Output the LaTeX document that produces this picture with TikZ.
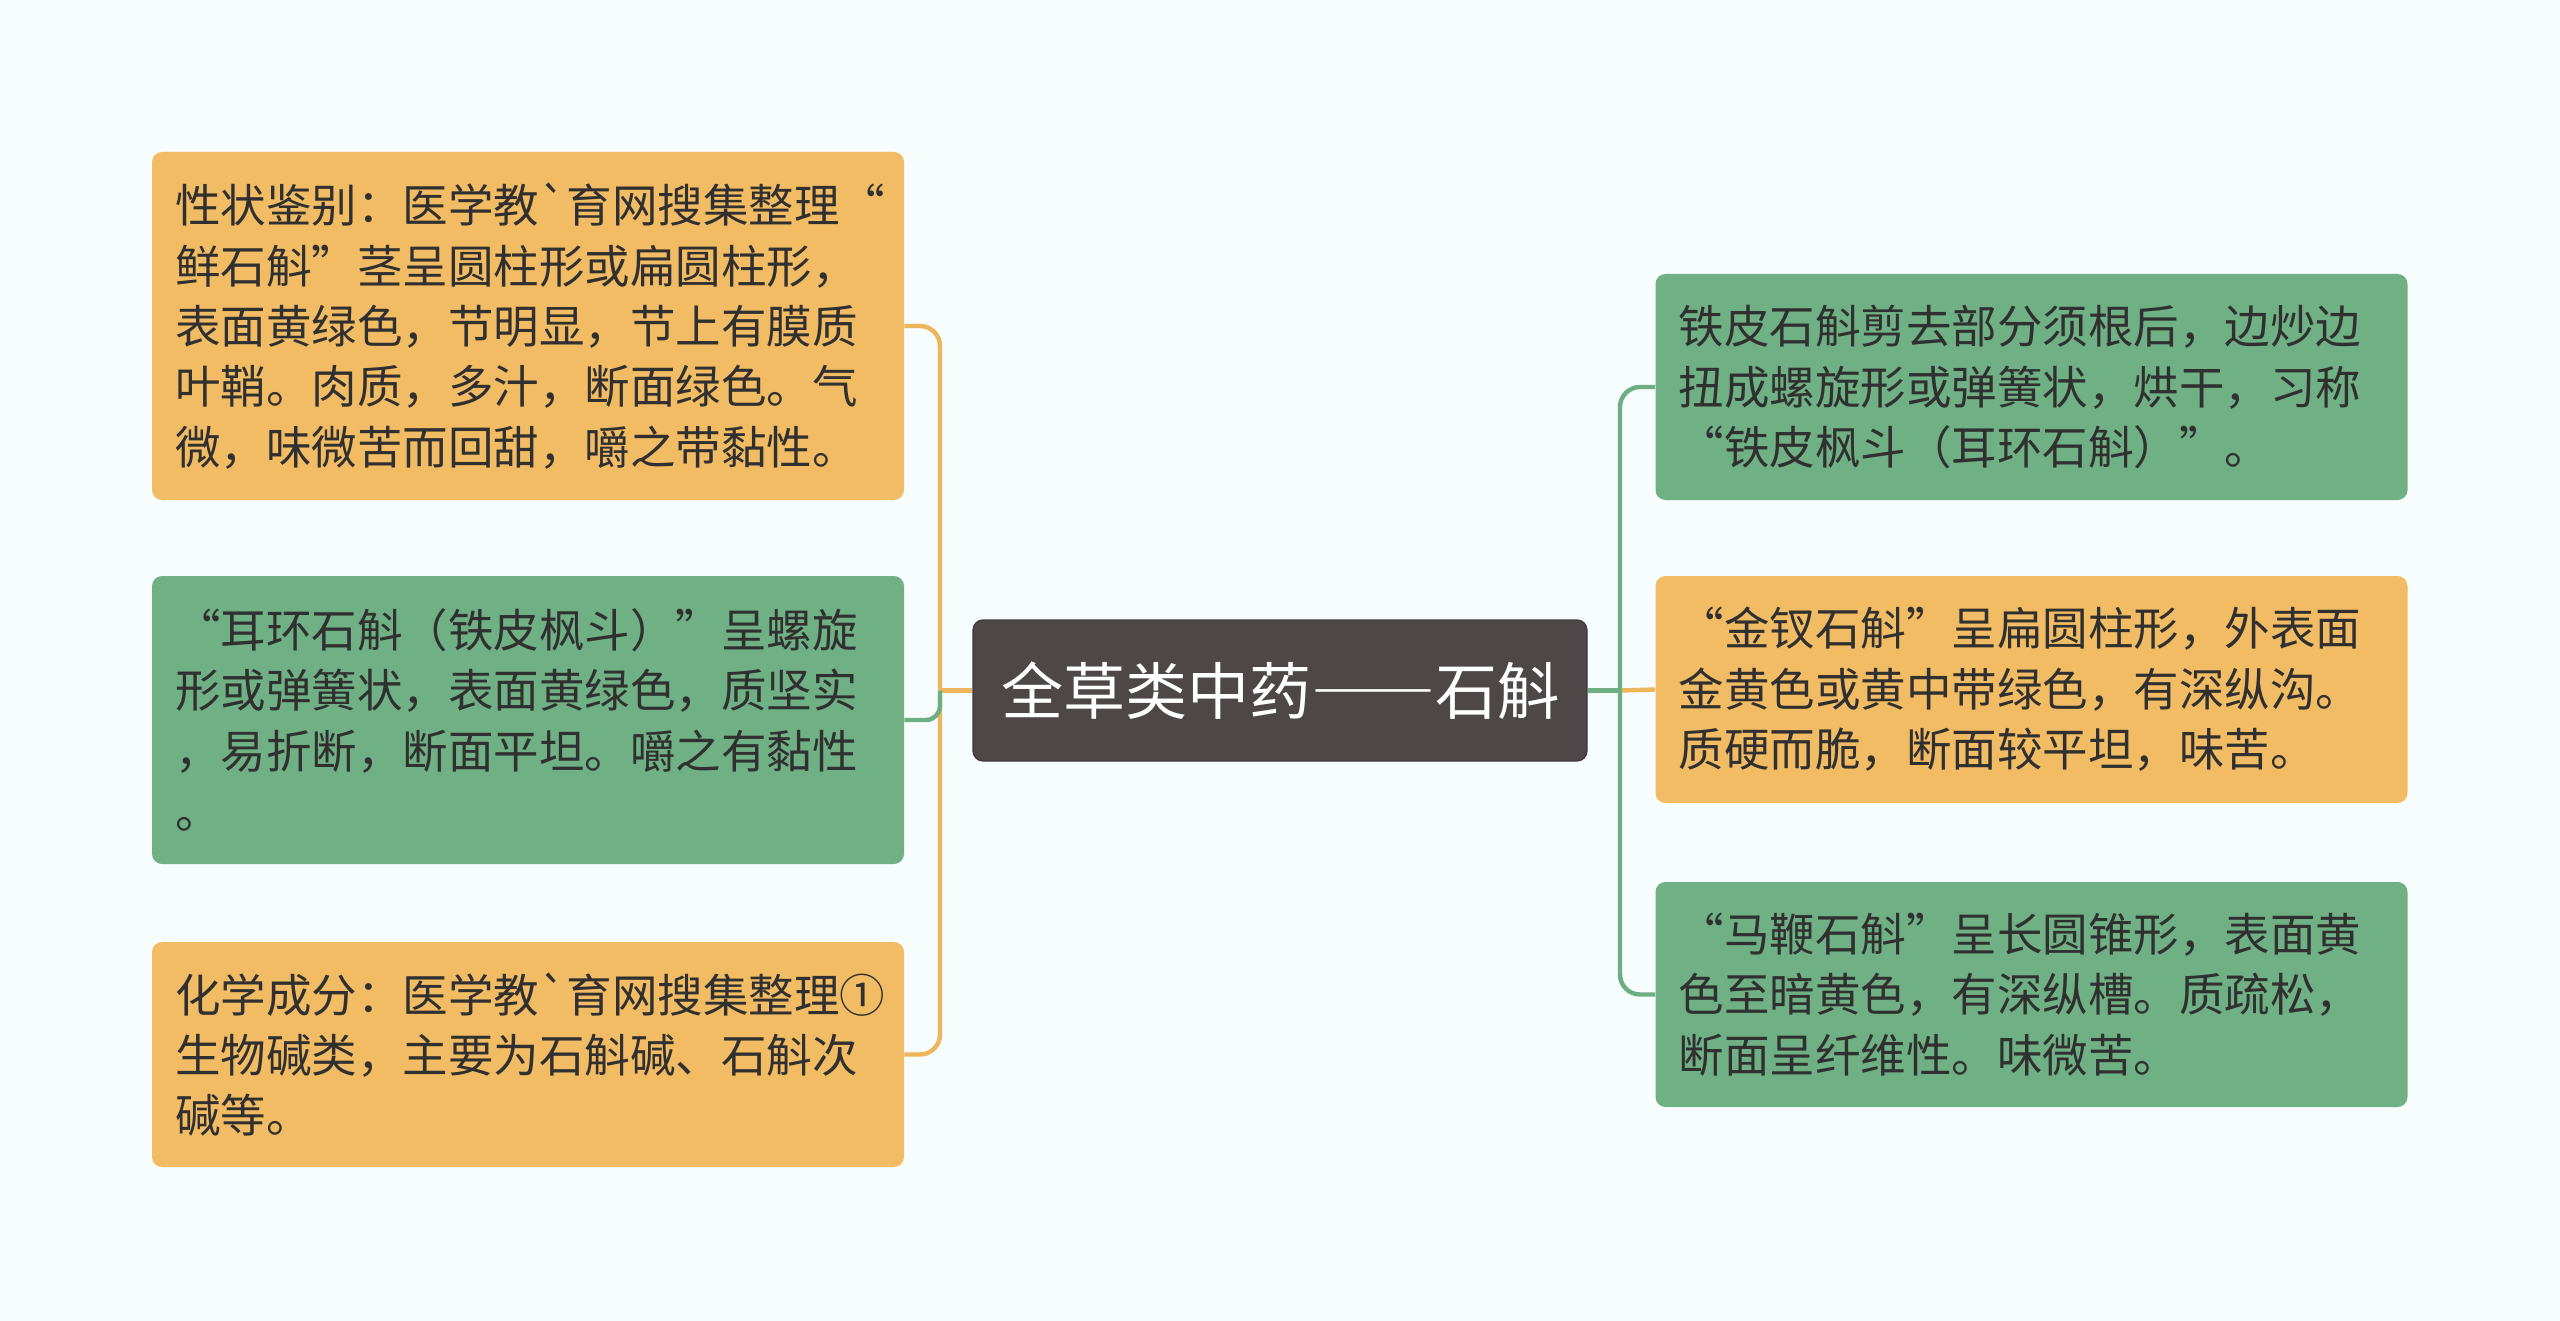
\documentclass[tikz,border=0pt]{standalone}
\usepackage{fontspec}
\setmainfont[Ligatures=TeXOff]{Noto Sans CJK SC}
\definecolor{bgc}{HTML}{F7FCFC}
\definecolor{orf}{HTML}{F1BC63}
\definecolor{grf}{HTML}{70B085}
\definecolor{orl}{HTML}{EEB65C}
\definecolor{grl}{HTML}{6DAE83}
\definecolor{ctr}{HTML}{4D4748}
\definecolor{txt}{HTML}{303030}
\tikzset{
  x=0.5pt, y=-0.5pt,
  leaf/.style={rounded corners=5pt, inner xsep=11.5pt, inner ysep=0pt,
    text width=353pt, minimum width=376pt, align=left, text=txt,
    font=\fontsize{22.75pt}{30.2pt}\selectfont},
  orbox/.style={leaf, fill=orf},
  grbox/.style={leaf, fill=grf},
  orline/.style={draw=orl, line width=2.2pt, rounded corners=10pt},
  grline/.style={draw=grl, line width=2.2pt, rounded corners=10pt},
}
\begin{document}
\begin{tikzpicture}
\fill[bgc] (0,0) rectangle (2560,1321);
\useasboundingbox (0,0) rectangle (2560,1321);

\node[rounded corners=5pt, fill=ctr, draw=ctr!80!black, line width=0.6pt,
  minimum width=307pt, minimum height=70.5pt, inner sep=0pt, text=white,
  font=\fontsize{31pt}{36pt}\selectfont] (C) at (1280,690.5) {全草类中药{\addfontfeature{RawFeature=+fwid}——}石斛};

\node[orbox, minimum height=174pt] (L1) at (528,326) {性状鉴别：医学教`育网搜集整理“\\鲜石斛”茎呈圆柱形或扁圆柱形，\\表面黄绿色，节明显，节上有膜质\\叶鞘。肉质，多汁，断面绿色。气\\微，味微苦而回甜，嚼之带黏性。};
\node[grbox, minimum height=144pt] (L2) at (528,720) {“耳环石斛（铁皮枫斗）”呈螺旋\\形或弹簧状，表面黄绿色，质坚实\\，易折断，断面平坦。嚼之有黏性\\。};
\node[orbox, minimum height=112.5pt] (L3) at (528,1054.5) {化学成分：医学教`育网搜集整理①\\生物碱类，主要为石斛碱、石斛次\\碱等。};

\node[grbox, minimum height=113pt] (R1) at (2031.5,387) {铁皮石斛剪去部分须根后，边炒边\\扭成螺旋形或弹簧状，烘干，习称\\“铁皮枫斗（耳环石斛）”。};
\node[orbox, minimum height=113.5pt] (R2) at (2031.5,689.5) {“金钗石斛”呈扁圆柱形，外表面\\金黄色或黄中带绿色，有深纵沟。\\质硬而脆，断面较平坦，味苦。};
\node[grbox, minimum height=112.5pt] (R3) at (2031.5,994.5) {“马鞭石斛”呈长圆锥形，表面黄\\色至暗黄色，有深纵槽。质疏松，\\断面呈纤维性。味微苦。};

\coordinate (BL) at (940,690.5);
\coordinate (BR) at (1620,690.5);

\draw[orline] (C.west) -- (BL);
\draw[orline] (BL) |- (L1.east);
\draw[orline] (BL) |- (L3.east);
\draw[grline, rounded corners=7pt] (BL) |- (L2.east);

\draw[orline] (BR) -- (R2.west);
\draw[grline] (C.east) -- (BR);
\draw[grline] (BR) |- (R1.west);
\draw[grline] (BR) |- (R3.west);
\end{tikzpicture}
\end{document}
